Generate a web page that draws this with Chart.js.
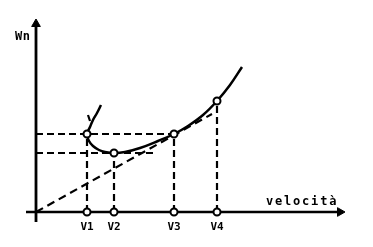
<!DOCTYPE html>
<html>
<head>
<meta charset="utf-8">
<script src="https://cdn.jsdelivr.net/npm/chart.js@4"></script>
<style>
html,body{margin:0;padding:0;background:#fff;}
#wrap{width:373px;height:247px;}
</style>
</head>
<body>
<div id="wrap"><canvas id="c" width="373" height="247"></canvas></div>
<script>
// Velocity marks (x) and their labels
const tickLabels = ["V1", "V2", "V3", "V4"];
const velocities = [51, 78, 138, 181];
// Curve value at each marked velocity
const markValues = [78, 59, 78, 111];
// The U-shaped curve W(v)
const curveX = [65, 61, 57, 54, 51, 53, 57, 63, 69, 78, 89, 104, 122, 138, 152, 167, 181, 194, 206];
const curveY = [107, 99, 92, 85, 78, 71, 66, 62, 60, 59, 60, 64, 71, 78, 86, 97, 111, 127, 145];
// Secant line from origin
const lineX = [0, 176];
const lineY = [0, 98];
// Horizontal dashed guides: level and right end
const hLevels = [78, 59];
const hEnds = [138, 117];
// Axis extents
const xRange = [-10, 312];
const yRange = [-10, 194];
const axisXEnd = 312, axisYEnd = 194;
const yAxisLabel = "Wn";
const xAxisLabel = "velocità";

const pts = (xs, ys) => xs.map((x, i) => ({x: x, y: ys[i]}));
const dash = [7, 4];
const datasets = [];

// axes
datasets.push({data: [{x: 0, y: -10}, {x: 0, y: axisYEnd - 6}], borderColor: '#000', borderWidth: 2.8, pointRadius: 0, showLine: true, order: 3});
datasets.push({data: [{x: -10, y: 0}, {x: axisXEnd - 8, y: 0}], borderColor: '#000', borderWidth: 2.6, pointRadius: 0, showLine: true, order: 3});
// arrowheads
datasets.push({data: [{x: 0, y: axisYEnd - 6}], pointStyle: 'triangle', pointRadius: 5, pointRotation: 0, backgroundColor: '#000', borderColor: '#000', borderWidth: 1, showLine: false, order: 2});
datasets.push({data: [{x: axisXEnd - 8, y: 0}], pointStyle: 'triangle', pointRadius: 5, pointRotation: 90, backgroundColor: '#000', borderColor: '#000', borderWidth: 1, showLine: false, order: 2});

// horizontal dashed guides
hLevels.forEach((lv, i) => {
  datasets.push({data: [{x: 0, y: lv}, {x: hEnds[i], y: lv}], borderColor: '#000', borderWidth: 2.2, borderDash: dash, pointRadius: 0, showLine: true, order: 4});
});
// vertical dashed guides
velocities.forEach((v, i) => {
  datasets.push({data: [{x: v, y: 0}, {x: v, y: markValues[i]}], borderColor: '#000', borderWidth: 2.2, borderDash: dash, pointRadius: 0, showLine: true, order: 4});
});
// secant from origin
datasets.push({data: pts(lineX, lineY), borderColor: '#000', borderWidth: 2.2, borderDash: [8, 5], pointRadius: 0, showLine: true, order: 4});
// curve
datasets.push({data: pts(curveX, curveY), borderColor: '#000', borderWidth: 2.5, pointRadius: 0, showLine: true, tension: 0.4, order: 2});
// small stroke next to top of curve
datasets.push({data: [{x: 52, y: 97}, {x: 54, y: 91}], borderColor: '#000', borderWidth: 2.2, pointRadius: 0, showLine: true, order: 2});
// open circle markers
datasets.push({data: pts(velocities, markValues).concat(velocities.map(v => ({x: v, y: 0}))), pointStyle: 'circle', pointRadius: 3.5, backgroundColor: '#fff', borderColor: '#000', borderWidth: 2, showLine: false, order: 0});

const textPlugin = {
  id: 'texts',
  afterDatasetsDraw(chart) {
    const ctx = chart.ctx, xs = chart.scales.x, ys = chart.scales.y;
    ctx.save();
    ctx.fillStyle = '#000';
    ctx.textBaseline = 'middle';
    ctx.textAlign = 'center';
    ctx.font = 'bold 11px "DejaVu Sans Mono"';
    tickLabels.forEach((t, i) => {
      ctx.fillText(t, xs.getPixelForValue(velocities[i]), ys.getPixelForValue(0) + 15);
    });
    ctx.textAlign = 'left';
    ctx.font = 'bold 12px "DejaVu Sans Mono"';
    ctx.letterSpacing = '0.5px';
    ctx.fillText(yAxisLabel, xs.getPixelForValue(0) - 21, ys.getPixelForValue(175));
    ctx.font = 'bold 12px "DejaVu Sans Mono"';
    ctx.letterSpacing = '1.8px';
    ctx.fillText(xAxisLabel, xs.getPixelForValue(230), ys.getPixelForValue(10));
    ctx.restore();
  }
};

new Chart(document.getElementById('c'), {
  type: 'scatter',
  data: {datasets: datasets},
  options: {
    responsive: false,
    animation: false,
    layout: {padding: {left: 26, right: 25, top: 18, bottom: 25}},
    plugins: {legend: {display: false}, tooltip: {enabled: false}},
    scales: {
      x: {type: 'linear', min: xRange[0], max: xRange[1], display: false},
      y: {type: 'linear', min: yRange[0], max: yRange[1], display: false}
    }
  },
  plugins: [textPlugin]
});
</script>
</body>
</html>
